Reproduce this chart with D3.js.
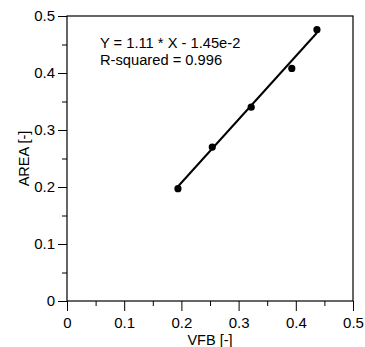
<!DOCTYPE html>
<html><head><meta charset="utf-8">
<script src="https://cdn.jsdelivr.net/npm/d3@7"></script>
<style>body{margin:0;background:#fff;} text{font-family:Arial,"Liberation Sans",sans-serif;}</style>
</head><body>
<svg id="c" width="365" height="347"></svg>
<script>
const vfb = [0.194, 0.254, 0.322, 0.393, 0.437];
const area = [0.197, 0.270, 0.340, 0.408, 0.476];
const slope = 1.11, intercept = -0.0145;
const xTicks = [0, 0.1, 0.2, 0.3, 0.4, 0.5];
const yTicks = [0, 0.1, 0.2, 0.3, 0.4, 0.5];
const minorTicks = [0.05, 0.15, 0.25, 0.35, 0.45];
const eqLines = ["Y = 1.11 * X - 1.45e-2", "R-squared = 0.996"];

const svg = d3.select("#c");
const m = {l:67, r:353, t:16, b:301};
const x = d3.scaleLinear().domain([0,0.5]).range([m.l, m.r]);
const y = d3.scaleLinear().domain([0,0.5]).range([m.b, m.t]);

// frame
svg.append("rect").attr("x", m.l).attr("y", m.t).attr("width", m.r-m.l).attr("height", m.b-m.t)
  .attr("fill","none").attr("stroke","#000").attr("stroke-width",1.2);

const fmt = d => d===0 ? "0" : d3.format(".1f")(d);
const xa = svg.append("g").attr("transform",`translate(0,${m.b})`)
  .call(d3.axisBottom(x).tickValues(xTicks).tickFormat(fmt).tickSizeInner(10).tickSizeOuter(0).tickPadding(6));
xa.append("g").call(d3.axisBottom(x).tickValues(minorTicks).tickFormat("").tickSizeInner(5).tickSizeOuter(0));
const ya = svg.append("g").attr("transform",`translate(${m.l},0)`)
  .call(d3.axisLeft(y).tickValues(yTicks).tickFormat(fmt).tickSizeInner(9).tickSizeOuter(0).tickPadding(3));
ya.append("g").call(d3.axisLeft(y).tickValues(minorTicks).tickFormat("").tickSizeInner(5).tickSizeOuter(0));
svg.selectAll(".domain").remove();
svg.selectAll(".tick line").attr("stroke","#000").attr("stroke-width",1);
svg.selectAll(".tick text").attr("font-size",15).attr("fill","#000").attr("font-family","Arial, Liberation Sans, sans-serif");

svg.append("text").attr("x", x(0.25)).attr("y", 345).attr("text-anchor","middle")
  .attr("font-size",14.5).text("VFB [-]");
svg.append("text").attr("transform",`translate(29,${y(0.25)}) rotate(-90)`).attr("text-anchor","middle")
  .attr("font-size",14.5).text("AREA [-]");

// regression line
const x0 = d3.min(vfb), x1 = d3.max(vfb);
svg.append("line").attr("x1", x(x0)).attr("y1", y(slope*x0+intercept))
  .attr("x2", x(x1)).attr("y2", y(slope*x1+intercept)).attr("stroke","#000").attr("stroke-width",2);

svg.selectAll("circle.pt").data(vfb).enter().append("circle")
  .attr("cx", d=>x(d)).attr("cy", (d,i)=>y(area[i])).attr("r",3.6).attr("fill","#000");

svg.selectAll("text.eq").data(eqLines).enter().append("text")
  .attr("x", 100).attr("y", (d,i)=>48+i*17).attr("font-size",14.7).text(d=>d);
</script>
</body></html>
